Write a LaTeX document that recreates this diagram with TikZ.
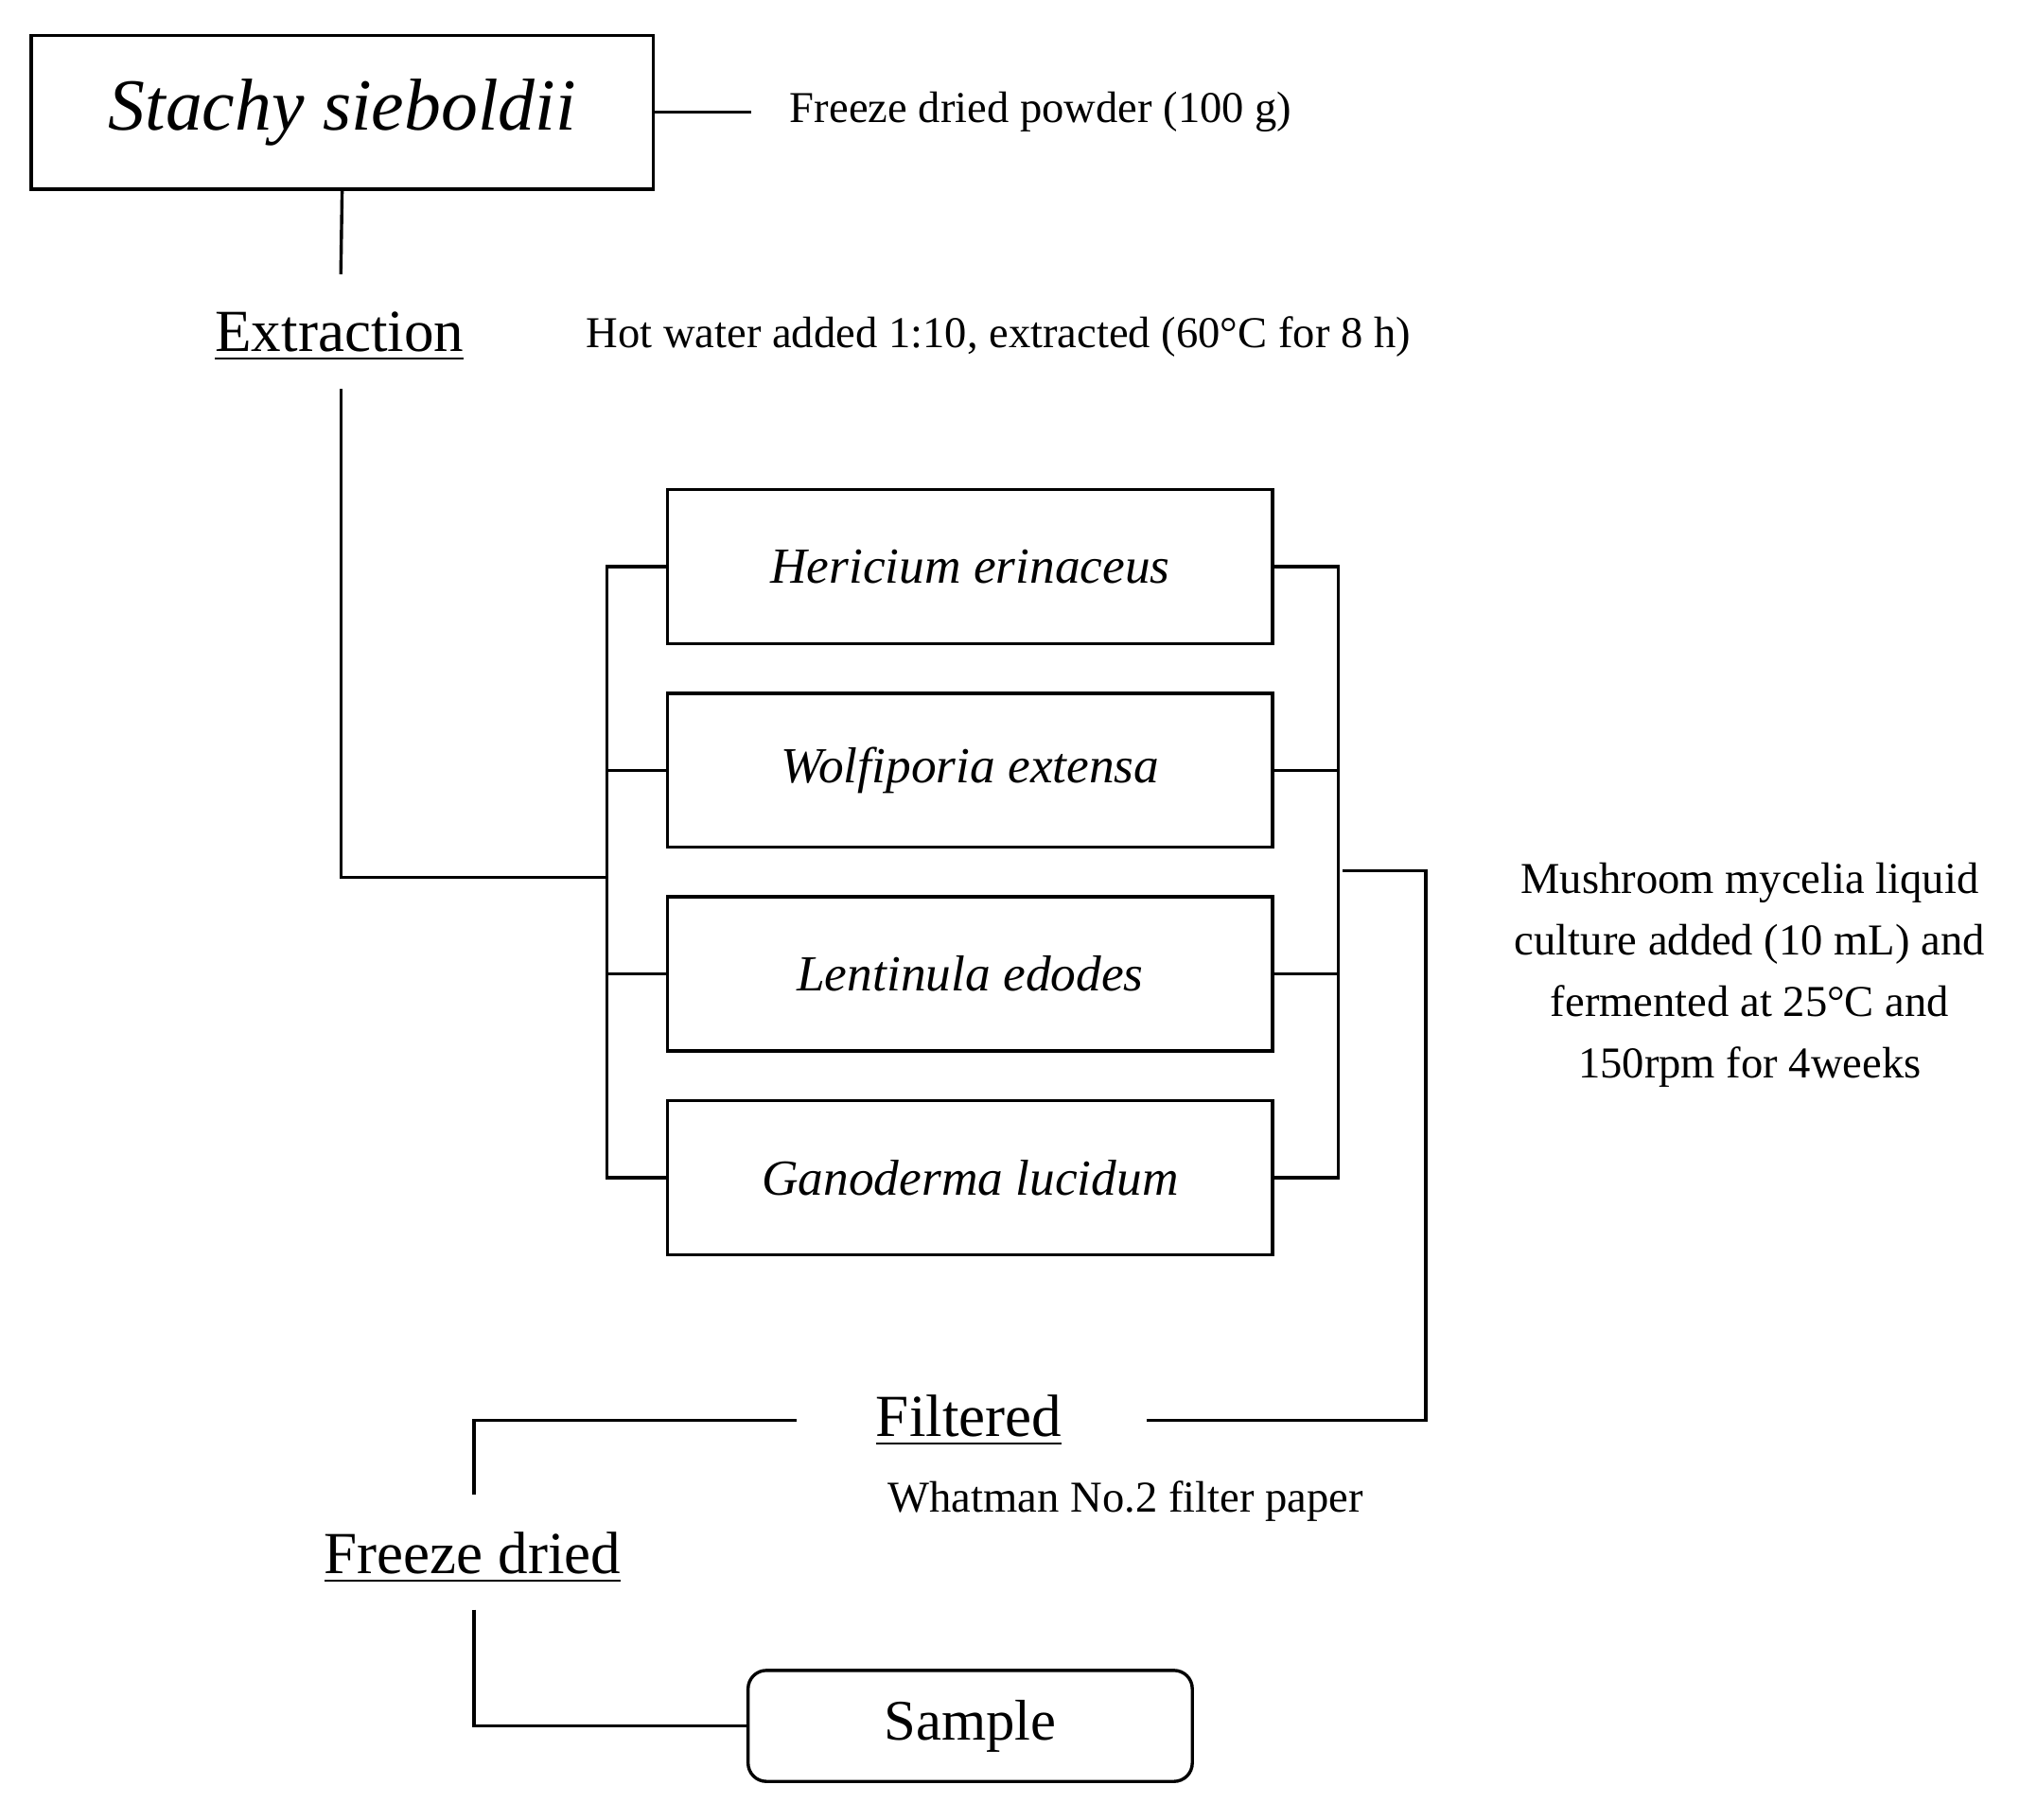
\documentclass[tikz,border=0pt]{standalone}
\usepackage{fontspec}
\setmainfont{Liberation Serif}
\begin{document}
\begin{tikzpicture}[x=0.01cm,y=-0.01cm,line width=0.7pt,
  box/.style={draw,minimum width=4.63cm,minimum height=1.18cm,font=\fontsize{11}{13}\selectfont\itshape},
  lab/.style={font=\fontsize{9.6}{13.4}\selectfont},
  head/.style={font=\fontsize{13}{15}\selectfont}]
\useasboundingbox (0,0) rectangle (1560,1394);
\node[draw,minimum width=4.76cm,minimum height=1.18cm,font=\fontsize{16}{18}\selectfont\itshape] (st) at (262,86) {Stachy sieboldii};
\coordinate (c1) at (575,86);
\node[lab,anchor=west] (fd) at (592,86) {Freeze dried powder (100 g)};
\draw (st.east|-c1) -- (c1);
\node[head] (ex) at (260,258) {\underline{Extraction}};
\node[lab,anchor=west] (hw) at (436,258) {Hot water added 1:10, extracted (60°C for 8 h)};
\draw (st.south) -- (261,210);
\node[box] (b1) at (743,434) {Hericium erinaceus};
\node[box] (b2) at (743,590) {Wolfiporia extensa};
\node[box] (b3) at (743,746) {Lentinula edodes};
\node[box] (b4) at (743,902) {Ganoderma lucidum};
\coordinate (lb) at (465,672);
\draw (261,298) -- (261,672) -- (lb);
\draw (b1.west) -| (465,902) -- (b4.west);
\draw (b2.west) -- (465,590) (b3.west) -- (465,746);
\draw (b1.east) -| (1025,902) -- (b4.east);
\draw (b2.east) -- (1025,590) (b3.east) -- (1025,746);
\node[lab,align=center] (mm) at (1340,747) {Mushroom mycelia liquid\\culture added (10 mL) and\\fermented at 25°C and\\150rpm for 4weeks};
\node[head] (fi) at (742,1088) {\underline{Filtered}};
\node[lab] (wh) at (862,1150) {Whatman No.2 filter paper};
\draw (1028,667) -- (1092,667) -- (1092,1088) -- (878,1088);
\node[head] (fr) at (362,1193) {\underline{Freeze dried}};
\draw (610,1088) -- (363,1088) -- (363,1145);
\node[draw,rounded corners=4pt,minimum width=3.4cm,minimum height=0.85cm,font=\fontsize{12.5}{15}\selectfont] (sa) at (743,1322) {Sample};
\draw (363,1233) -- (363,1322) -- (sa.west);
\end{tikzpicture}
\end{document}
